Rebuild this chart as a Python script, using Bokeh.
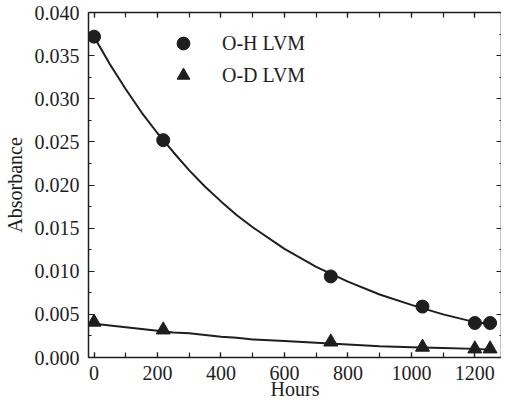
from bokeh.plotting import figure
from bokeh.models import (LinearAxis, Range1d, SingleIntervalTicker,
                          PrintfTickFormatter, Legend, LegendItem)
from bokeh.embed import file_html
from bokeh.resources import INLINE

# ---- data ----
hours = [0, 218, 746, 1035, 1200, 1248]
oh_lvm = [0.0372, 0.0252, 0.0094, 0.0059, 0.0040, 0.0040]
od_lvm = [0.0041, 0.0032, 0.0018, 0.0012, 0.0010, 0.0010]

# fitted curves
fit_hours = [0, 50, 100, 150, 200, 250, 300, 350, 400, 450, 500, 600, 700,
             800, 900, 1000, 1100, 1200, 1250]
oh_fit = [0.0372, 0.0340, 0.0311, 0.0284, 0.0260, 0.0238, 0.0217, 0.0198,
          0.0181, 0.0165, 0.0151, 0.0126, 0.0105, 0.0088, 0.0073, 0.0061,
          0.0050, 0.0041, 0.0039]
od_fit = [0.0039, 0.0037, 0.0035, 0.0033, 0.0031, 0.0029, 0.0028, 0.0026,
          0.0024, 0.0023, 0.0021, 0.0019, 0.0017, 0.0015, 0.0013, 0.0012,
          0.0011, 0.0010, 0.0009]

x_label = "Hours"
y_label = "Absorbance"
series_names = ["O-H LVM", "O-D LVM"]

FONT = "Liberation Serif"
INK = "#1e1e1e"

p = figure(width=501, height=402, output_backend="svg", toolbar_location=None,
           x_range=Range1d(-17.5, 1284), y_range=Range1d(0, 0.040),
           min_border_left=84, min_border_right=0, min_border_top=12,
           min_border_bottom=40)
p.background_fill_color = "white"
p.border_fill_color = "white"
p.outline_line_color = None
p.xgrid.visible = False
p.ygrid.visible = False

def style(ax, maj, mnr, labels=True):
    ax.axis_line_color = INK
    ax.axis_line_width = 1.5
    ax.major_tick_line_color = INK
    ax.minor_tick_line_color = INK
    ax.major_tick_line_width = 1.2
    ax.minor_tick_line_width = 1.2
    ax.major_tick_in = maj
    ax.major_tick_out = 0
    ax.minor_tick_in = mnr
    ax.minor_tick_out = 0
    ax.major_label_text_font = FONT
    ax.axis_label_text_font = FONT
    ax.axis_label_text_color = INK
    ax.axis_label_text_font_style = "normal"
    if labels:
        ax.major_label_text_color = INK
        ax.major_label_text_font_size = "20px"
        ax.axis_label_text_font_size = "20px"
    else:
        ax.major_label_text_color = None
        ax.major_label_text_font_size = "1px"
        ax.major_label_standoff = 0

bx = p.xaxis[0]
bx.ticker = SingleIntervalTicker(interval=200, num_minor_ticks=2)
style(bx, 5, 5)
bx.major_label_standoff = 8
bx.axis_label = x_label
bx.axis_label_standoff = -5

ly = p.yaxis[0]
ly.ticker = SingleIntervalTicker(interval=0.005, num_minor_ticks=2)
ly.formatter = PrintfTickFormatter(format="%.3f")
style(ly, 6, 3)
ly.major_label_standoff = 9
ly.axis_label = y_label
ly.axis_label_standoff = 6

top = LinearAxis(ticker=SingleIntervalTicker(interval=200, num_minor_ticks=2))
style(top, 5, 5, labels=False)
p.add_layout(top, "above")

right = LinearAxis(ticker=SingleIntervalTicker(interval=0.005, num_minor_ticks=2))
style(right, 5, 2, labels=False)
p.add_layout(right, "right")

p.line(fit_hours, oh_fit, line_color=INK, line_width=2)
p.line(fit_hours, od_fit, line_color=INK, line_width=2)
r_oh = p.scatter(hours, oh_lvm, marker="circle", size=13, fill_color=INK,
                 line_color=INK)
r_od = p.scatter(hours, od_lvm, marker="triangle", size=14, fill_color=INK,
                 line_color=INK)

legend = Legend(items=[LegendItem(label=series_names[0], renderers=[r_oh]),
                       LegendItem(label=series_names[1], renderers=[r_od])],
                location=(76, 266))
legend.glyph_width = 38
legend.glyph_height = 32
legend.spacing = 0
legend.padding = 0
legend.margin = 0
legend.label_standoff = 20
legend.label_text_font = FONT
legend.label_text_font_size = "20px"
legend.label_text_color = INK
legend.border_line_color = None
legend.background_fill_alpha = 0
p.add_layout(legend)

open("out.html", "w").write(file_html(p, INLINE))
